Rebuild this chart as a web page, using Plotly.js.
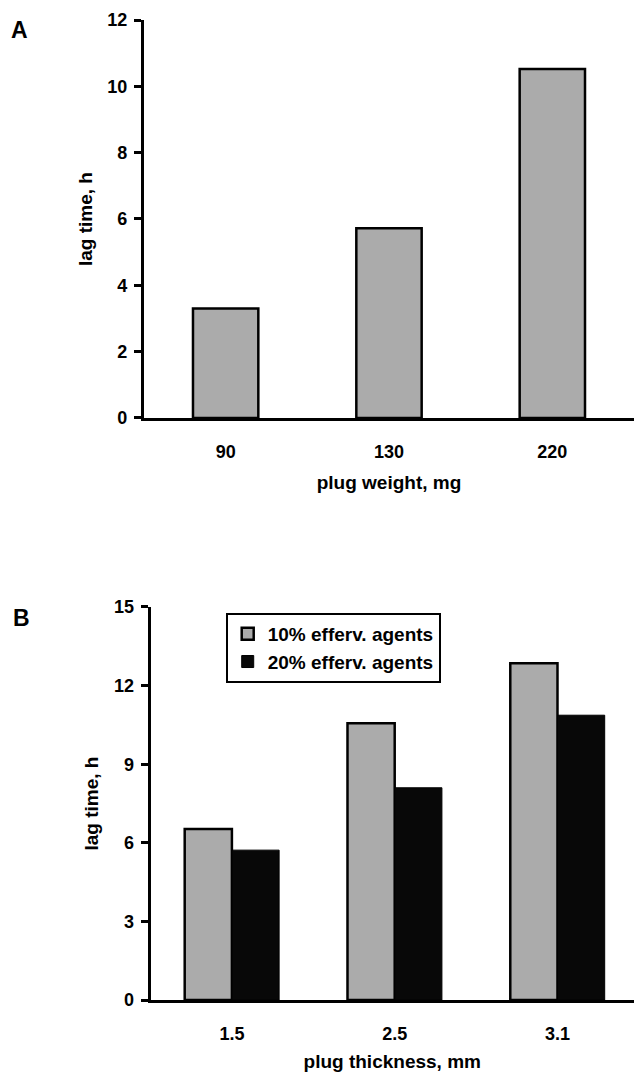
<!DOCTYPE html>
<html>
<head>
<meta charset="utf-8">
<script src="https://cdn.plot.ly/plotly-3.0.1.min.js"></script>
<style>
  html, body { margin: 0; padding: 0; background: #fff; }
  #chart { width: 634px; height: 1072px; }
</style>
</head>
<body>
<div id="chart"></div>
<script>
// Panel A data
var weightCategories = ['90', '130', '220'];
var lagTimeA = [3.3, 5.72, 10.52];

// Panel B data
var thicknessCategories = ['1.5', '2.5', '3.1'];
var lag10 = [6.53, 10.56, 12.85];
var lag20 = [5.72, 8.1, 10.87];
var seriesNames = ['10% efferv. agents', '20% efferv. agents'];

var FONT = 'Liberation Sans, Arial, Helvetica, sans-serif';
var stipple = {shape: '.', fgcolor: '#666666', bgcolor: '#e2e2e2', size: 2, solidity: 0.5};

var traces = [
  {
    type: 'bar', x: weightCategories, y: lagTimeA, xaxis: 'x', yaxis: 'y',
    width: 0.4, offset: -0.2, showlegend: false,
    marker: {color: '#b0b0b0', pattern: stipple, line: {color: '#000', width: 2.5}}
  },
  {
    type: 'bar', name: seriesNames[0], x: thicknessCategories, y: lag10, xaxis: 'x2', yaxis: 'y2',
    width: 0.29, offset: -0.29, legendgroup: 'g1',
    marker: {color: '#b0b0b0', pattern: stipple, line: {color: '#000', width: 2.5}}
  },
  {
    type: 'bar', name: seriesNames[1], x: thicknessCategories, y: lag20, xaxis: 'x2', yaxis: 'y2',
    width: 0.29, offset: 0, legendgroup: 'g2',
    marker: {color: '#080808', line: {color: '#000', width: 1}}
  }
];

function xAxis(domain, range, title, anchor) {
  return {
    domain: domain, anchor: anchor, type: 'category', range: range,
    showline: true, linewidth: 3, linecolor: '#000', ticks: '',
    showgrid: false, zeroline: false, fixedrange: true,
    ticklabelstandoff: 15,
    tickfont: {family: FONT, size: 18, color: '#000', weight: 'bold'},
    title: {text: title, standoff: 16, font: {family: FONT, size: 19, color: '#000', weight: 'bold'}}
  };
}
function yAxis(domain, range, dtick, anchor, standoff) {
  return {
    domain: domain, anchor: anchor, range: range, dtick: dtick,
    showline: true, linewidth: 3, linecolor: '#000',
    ticks: 'outside', ticklen: 7, tickwidth: 3, tickcolor: '#000',
    showgrid: false, zeroline: false, fixedrange: true,
    ticklabelstandoff: 3,
    tickfont: {family: FONT, size: 18, color: '#000', weight: 'bold'},
    title: {text: 'lag time, h', standoff: standoff, font: {family: FONT, size: 19, color: '#000', weight: 'bold'}}
  };
}

var layout = {
  width: 634, height: 1072,
  margin: {l: 0, r: 0, t: 0, b: 0},
  paper_bgcolor: '#fff', plot_bgcolor: '#fff',
  barmode: 'group',
  xaxis: xAxis([0.2271, 1], [-0.5, 2.5], 'plug weight, mg', 'y'),
  yaxis: yAxis([0.6101, 0.98134], [0, 12], 2, 'x', 10),
  xaxis2: xAxis([0.2374, 1], [-0.5, 2.47], 'plug thickness, mm', 'y2'),
  yaxis2: yAxis([0.06716, 0.43377], [0, 15], 3, 'x2', 11),
  showlegend: true,
  legend: {
    x: 0.356, y: 0.4282, xanchor: 'left', yanchor: 'top',
    bgcolor: '#fff', bordercolor: '#000', borderwidth: 2,
    traceorder: 'grouped', tracegroupgap: 0,
    font: {family: FONT, size: 19, color: '#000', weight: 'bold'}
  },
  annotations: [
    {text: 'A', xref: 'paper', yref: 'paper', x: 0.030, y: 0.972, showarrow: false,
     xanchor: 'center', yanchor: 'middle', font: {family: FONT, size: 23, color: '#000', weight: 'bold'}},
    {text: 'B', xref: 'paper', yref: 'paper', x: 0.0347, y: 0.4235, showarrow: false,
     xanchor: 'center', yanchor: 'middle', font: {family: FONT, size: 23, color: '#000', weight: 'bold'}}
  ]
};

Plotly.newPlot('chart', traces, layout, {displayModeBar: false, staticPlot: true});
</script>
</body>
</html>
